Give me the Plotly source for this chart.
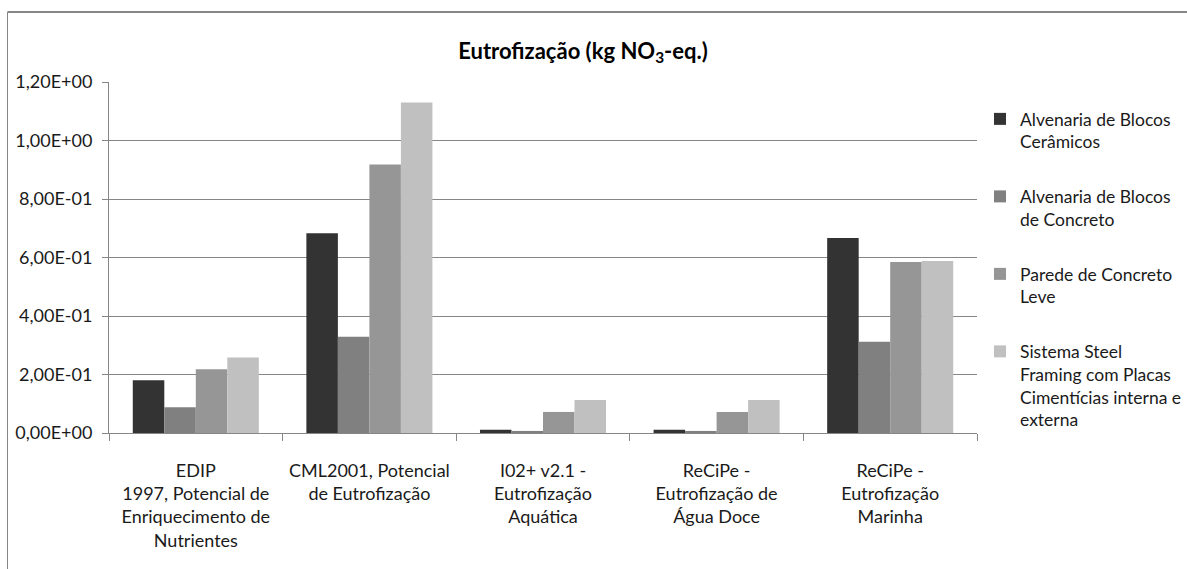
import plotly.graph_objects as go

# Impact methods (x categories) and material systems (series)
categories = [
    "EDIP<br>1997, Potencial de<br>Enriquecimento de<br>Nutrientes",
    "CML2001, Potencial<br>de Eutrofização",
    "I02+ v2.1 -<br>Eutrofização<br>Aquática",
    "ReCiPe -<br>Eutrofização de<br>Água Doce",
    "ReCiPe -<br>Eutrofização<br>Marinha",
]

series_names = [
    "Alvenaria de Blocos<br>Cerâmicos",
    "Alvenaria de Blocos<br>de Concreto",
    "Parede de Concreto<br>Leve",
    "Sistema Steel<br>Framing com Placas<br>Cimentícias interna e<br>externa",
]

ceramicos = [0.180, 0.683, 0.011, 0.011, 0.667]
blocos_concreto = [0.088, 0.329, 0.007, 0.007, 0.312]
concreto_leve = [0.218, 0.918, 0.072, 0.072, 0.585]
steel_framing = [0.258, 1.130, 0.113, 0.113, 0.588]

series_values = [ceramicos, blocos_concreto, concreto_leve, steel_framing]
series_colors = ["#333333", "#808080", "#969696", "#c0c0c0"]

y_tickvals = [0, 0.2, 0.4, 0.6, 0.8, 1.0, 1.2]
y_ticktext = ["0,00E+00", "2,00E-01", "4,00E-01", "6,00E-01",
              "8,00E-01", "1,00E+00", "1,20E+00"]

FONT = "Lato, 'Open Sans', sans-serif"
GRAY = "#868686"
TEXT = "#1a1a1a"

fig = go.Figure()
for i, (name, vals, col) in enumerate(zip(series_names, series_values, series_colors)):
    fig.add_trace(go.Bar(
        x=categories, y=vals, name=name,
        marker=dict(color=col, line=dict(width=0)),
        legendgroup=f"g{i}",
    ))

W, H = 1187, 569
L, R, T, B = 109, 210, 82, 136
pw = W - L - R
ph = H - T - B

def px_to_paper_x(px):
    return (px - L) / pw

def px_to_paper_y(py):
    return (H - B - py) / ph

fig.update_layout(
    width=W, height=H,
    margin=dict(l=L, r=R, t=T, b=B, pad=0, autoexpand=False),
    paper_bgcolor="white", plot_bgcolor="white",
    font=dict(family=FONT, size=18, color=TEXT),
    barmode="group", bargap=0.274, bargroupgap=0,
    title=dict(
        text="<b>Eutrofização (kg NO<sub>3</sub>-eq.)</b>",
        x=583 / W, xanchor="center", xref="container",
        y=1 - 51 / H, yanchor="middle", yref="container",
        font=dict(family=FONT, size=22, color="#000000"),
    ),
    legend=dict(
        x=px_to_paper_x(980), xanchor="left",
        y=px_to_paper_y(101), yanchor="top",
        font=dict(family=FONT, size=17.5, color=TEXT),
        valign="top", tracegroupgap=29, itemwidth=30,
        bgcolor="rgba(0,0,0,0)",
    ),
    xaxis=dict(
        type="category", tickson="boundaries",
        showline=True, linecolor=GRAY, linewidth=1,
        ticks="outside", ticklen=7, tickcolor=GRAY,
        ticklabelstandoff=21,
        showgrid=False, tickfont=dict(family=FONT, size=18, color=TEXT),
    ),
    yaxis=dict(
        range=[0, 1.2], tickvals=y_tickvals, ticktext=y_ticktext,
        showline=True, linecolor=GRAY, linewidth=1,
        ticks="outside", ticklen=6, tickcolor=GRAY,
        ticklabelstandoff=6,
        showgrid=True, gridcolor=GRAY, gridwidth=1,
        zeroline=False,
        tickfont=dict(family=FONT, size=18, color=TEXT),
    ),
    shapes=[
        # outer frame: top and left edges
        dict(type="line", xref="paper", yref="paper",
             x0=px_to_paper_x(7.5), x1=px_to_paper_x(1190),
             y0=px_to_paper_y(12), y1=px_to_paper_y(12),
             line=dict(color=GRAY, width=2)),
        dict(type="line", xref="paper", yref="paper",
             x0=px_to_paper_x(7.5), x1=px_to_paper_x(7.5),
             y0=px_to_paper_y(12), y1=px_to_paper_y(575),
             line=dict(color=GRAY, width=1)),
    ],
)

fig.write_html("out.html")
